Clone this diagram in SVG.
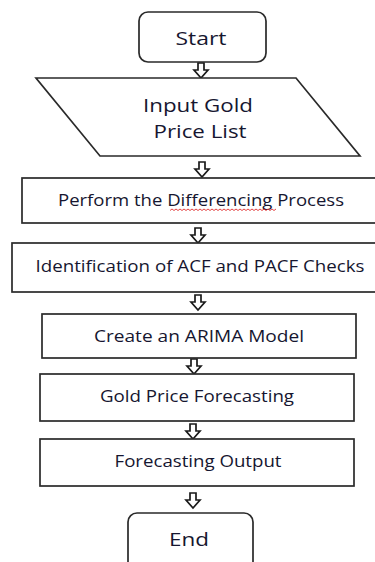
<svg xmlns="http://www.w3.org/2000/svg" width="375" height="562" viewBox="0 0 375 562">
<style>
.shape{fill:#fff;stroke:#2a2a2a;stroke-width:1.7}
.arr{fill:#fff;stroke:#1a1a1a;stroke-width:1.7;stroke-linejoin:miter}
.t{font-family:"Open Sans","Liberation Sans",sans-serif;fill:#161630;text-anchor:middle}
.big{font-size:19px}
.sm{font-size:16px}
</style>
<rect width="375" height="562" fill="#fff"/>
<g id="connectors">
<path class="arr" d="M198,63 h6 v7 h4 l-7,8 l-7,-8 h4 z"/>
<path class="arr" d="M199,162 h6 v7 h4 l-7,8 l-7,-8 h4 z"/>
<path class="arr" d="M195,228 h6 v7 h4 l-7,8 l-7,-8 h4 z"/>
<path class="arr" d="M195,295 h6 v7 h4 l-7,8 l-7,-8 h4 z"/>
<path class="arr" d="M191,359 h6 v7 h4 l-7,8 l-7,-8 h4 z"/>
<path class="arr" d="M190,424 h6 v7 h4 l-7,8 l-7,-8 h4 z"/>
<path class="arr" d="M190,493 h6 v7 h4 l-7,8 l-7,-8 h4 z"/>
</g>
<g id="start">
<rect class="shape" x="139" y="12" width="127" height="50" rx="9"/>
<text class="t big" x="201" y="45" textLength="51" lengthAdjust="spacingAndGlyphs">Start</text>
</g>
<g id="input">
<polygon class="shape" points="36,78 296,78 360,156 100,156"/>
<text class="t big" x="198" y="112" textLength="110" lengthAdjust="spacingAndGlyphs">Input Gold</text>
<text class="t big" x="200" y="138" textLength="93" lengthAdjust="spacingAndGlyphs">Price List</text>
</g>
<g id="differencing">
<rect class="shape" x="22" y="178" width="360" height="45"/>
<text class="t sm" x="201" y="206" textLength="286" lengthAdjust="spacingAndGlyphs">Perform the Differencing Process</text>
<path d="M170,210.5 l2,-1.5 l2,1.5 l2,-1.5 l2,1.5 l2,-1.5 l2,1.5 l2,-1.5 l2,1.5 l2,-1.5 l2,1.5 l2,-1.5 l2,1.5 l2,-1.5 l2,1.5 l2,-1.5 l2,1.5 l2,-1.5 l2,1.5 l2,-1.5 l2,1.5 l2,-1.5 l2,1.5 l2,-1.5 l2,1.5 l2,-1.5 l2,1.5 l2,-1.5 l2,1.5 l2,-1.5 l2,1.5 l2,-1.5 l2,1.5 l2,-1.5 l2,1.5 l2,-1.5 l2,1.5 l2,-1.5 l2,1.5 l2,-1.5 l2,1.5 l2,-1.5 l2,1.5 l2,-1.5 l2,1.5 l2,-1.5 l2,1.5 l2,-1.5 l2,1.5 l2,-1.5 l2,1.5 l2,-1.5 l2,1.5 l2,-1.5" fill="none" stroke="#e03030" stroke-width="0.9"/>
</g>
<g id="identification">
<rect class="shape" x="12" y="243" width="370" height="49"/>
<text class="t sm" x="200" y="272" textLength="329" lengthAdjust="spacingAndGlyphs">Identification of ACF and PACF Checks</text>
</g>
<g id="arima">
<rect class="shape" x="42" y="314" width="314" height="44"/>
<text class="t sm" x="199" y="342" textLength="210" lengthAdjust="spacingAndGlyphs">Create an ARIMA Model</text>
</g>
<g id="forecasting">
<rect class="shape" x="40" y="374" width="314" height="47"/>
<text class="t sm" x="197" y="402" textLength="194" lengthAdjust="spacingAndGlyphs">Gold Price Forecasting</text>
</g>
<g id="output">
<rect class="shape" x="40" y="439" width="314" height="47"/>
<text class="t sm" x="198" y="467" textLength="167" lengthAdjust="spacingAndGlyphs">Forecasting Output</text>
</g>
<g id="end">
<rect class="shape" x="128" y="513" width="125" height="62" rx="9"/>
<text class="t big" x="189" y="546" textLength="40" lengthAdjust="spacingAndGlyphs">End</text>
</g>
</svg>
